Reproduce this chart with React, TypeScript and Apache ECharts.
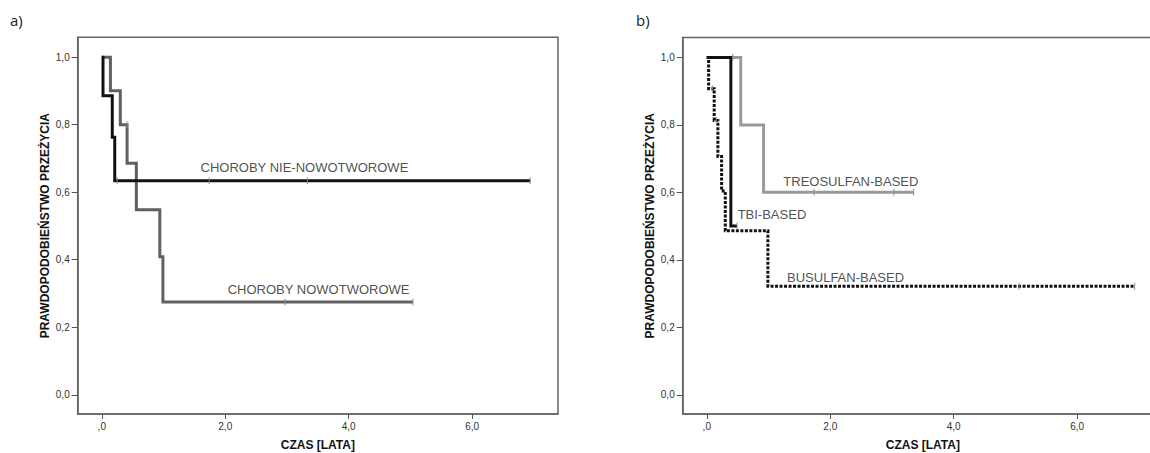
import React, { useEffect, useRef } from "react";
import * as echarts from "echarts";

// ---- Data ----
const xTicks = [0, 2, 4, 6];
const yTicks = [0, 0.2, 0.4, 0.6, 0.8, 1.0];

// Panel a) — Kaplan-Meier steps [time (years), survival]
const nonCancer: [number, number][] = [[0, 1], [0.02, 0.886], [0.17, 0.763], [0.21, 0.634], [6.94, 0.634]];
const cancer: [number, number][] = [[0, 1], [0.14, 0.901], [0.3, 0.8], [0.41, 0.686], [0.56, 0.548], [0.94, 0.409], [0.99, 0.275], [5.04, 0.275]];
const nonCancerCensor: [number, number][] = [[0.25, 0.634], [1.74, 0.634], [3.33, 0.634], [6.94, 0.634]];
const cancerCensor: [number, number][] = [[0.41, 0.8], [2.97, 0.275], [5.04, 0.275]];

// Panel b)
const tbi: [number, number][] = [[0, 1], [0.39, 0.5], [0.49, 0.5]];
const treo: [number, number][] = [[0, 1], [0.55, 0.8], [0.92, 0.6], [3.35, 0.6]];
const busulfan: [number, number][] = [[0, 1], [0.03, 0.907], [0.12, 0.813], [0.18, 0.706], [0.24, 0.604], [0.3, 0.486], [0.99, 0.322], [6.93, 0.322]];
const tbiCensor: [number, number][] = [[0.49, 0.5]];
const treoCensor: [number, number][] = [[0.42, 1.0], [1.74, 0.6], [3.03, 0.6], [3.35, 0.6]];
const busulfanCensor: [number, number][] = [[0.09, 0.907], [0.16, 0.813], [5.06, 0.322], [6.93, 0.322]];

// Curve labels [time, survival, text]
const labelsA: [number, number, string][] = [
  [1.6, 0.672, "CHOROBY NIE-NOWOTWOROWE"],
  [2.04, 0.311, "CHOROBY NOWOTWOROWE"],
];
const labelsB: [number, number, string][] = [
  [0.5, 0.534, "TBI-BASED"],
  [1.24, 0.633, "TREOSULFAN-BASED"],
  [1.3, 0.349, "BUSULFAN-BASED"],
];

const X_MIN = -0.39, X_MAX = 7.39, Y_MIN = -0.057, Y_MAX = 1.059;
const FONT = "'Liberation Sans', Arial, sans-serif";

const fmtX = (v: number) => (Math.abs(v) < 1e-9 ? ",0" : v.toFixed(1).replace(".", ","));
const fmtY = (v: number) => v.toFixed(1).replace(".", ",");

function makeX(gridIndex: number) {
  return {
    type: "value", gridIndex, min: X_MIN, max: X_MAX,
    name: "CZAS [LATA]", nameLocation: "middle", nameGap: 25,
    nameTextStyle: { fontFamily: FONT, fontSize: 12, fontWeight: "bold", color: "#111" },
    axisLine: { show: true, onZero: false, lineStyle: { color: "#666", width: 1.5 } },
    axisTick: { show: true, length: 5, customValues: xTicks, lineStyle: { color: "#555", width: 1 } },
    axisLabel: { customValues: xTicks, formatter: fmtX, fontFamily: FONT, fontSize: 10, color: "#333", margin: 7 },
    splitLine: { show: false },
  };
}
function makeY(gridIndex: number) {
  return {
    type: "value", gridIndex, min: Y_MIN, max: Y_MAX,
    name: "PRAWDOPODOBIEŃSTWO PRZEŻYCIA", nameLocation: "middle", nameGap: 27, nameRotate: 90,
    nameTextStyle: { fontFamily: FONT, fontSize: 12, fontWeight: "bold", color: "#111" },
    axisLine: { show: true, onZero: false, lineStyle: { color: "#666", width: 1.5 } },
    axisTick: { show: true, length: 6, customValues: yTicks, lineStyle: { color: "#555", width: 1 } },
    axisLabel: { customValues: yTicks, formatter: fmtY, fontFamily: FONT, fontSize: 10, color: "#333", margin: 8 },
    splitLine: { show: false },
  };
}

function stepLine(data: [number, number][], idx: number, color: string, type: any = "solid", z = 2) {
  return {
    type: "line", xAxisIndex: idx, yAxisIndex: idx, data, step: "end", showSymbol: false, symbol: "none",
    lineStyle: { color, width: 3, type, cap: "butt", join: "miter" }, z, silent: true,
  };
}
function censor(data: [number, number][], idx: number) {
  return {
    type: "scatter", xAxisIndex: idx, yAxisIndex: idx, data, symbol: "rect", symbolSize: [1.2, 7],
    itemStyle: { color: "#8a8a8a" }, z: 5, silent: true,
  };
}
function labels(data: [number, number, string][], idx: number) {
  return {
    type: "scatter", xAxisIndex: idx, yAxisIndex: idx, symbolSize: 0, silent: true, z: 6,
    data: data.map((d) => ({ value: [d[0], d[1]], name: d[2] })),
    label: {
      show: true, position: "right", distance: 0, formatter: (p: any) => p.name,
      fontFamily: FONT, fontSize: 13, color: "#222",
    },
  };
}

export default function App() {
  const ref = useRef<HTMLDivElement>(null);
  useEffect(() => {
    if (!ref.current) return;
    const chart = echarts.init(ref.current, null, { renderer: "svg" });
    chart.setOption({
      animation: false,
      backgroundColor: "#fff",
      grid: [
        { left: 77.7, top: 37.3, width: 480.3, height: 376.7, show: true, borderColor: "#666", borderWidth: 1.5, containLabel: false, outerBoundsMode: "none" },
        { left: 682.7, top: 37.5, width: 480.3, height: 376.5, show: true, borderColor: "#666", borderWidth: 1.5, containLabel: false, outerBoundsMode: "none" },
      ],
      xAxis: [makeX(0), makeX(1)],
      yAxis: [makeY(0), makeY(1)],
      graphic: [
        { type: "text", left: 10, top: 12, style: { text: "a)", fontFamily: "'Open Sans', 'Noto Sans', sans-serif", fontSize: 15, fill: "#222" } },
        { type: "text", left: 636, top: 12, style: { text: "b)", fontFamily: "'Open Sans', 'Noto Sans', sans-serif", fontSize: 15, fill: "#222" } },
      ],
      series: [
        stepLine(cancer, 0, "#606060"),
        stepLine(nonCancer, 0, "#111", "solid", 3),
        censor(nonCancerCensor, 0),
        censor(cancerCensor, 0),
        labels(labelsA, 0),
        stepLine(treo, 1, "#9a9a9a"),
        stepLine(busulfan, 1, "#111", [3, 1.5], 3),
        stepLine(tbi, 1, "#111", "solid", 4),
        censor(tbiCensor, 1),
        censor(treoCensor, 1),
        censor(busulfanCensor, 1),
        labels(labelsB, 1),
      ],
    });
    return () => chart.dispose();
  }, []);
  return (
    <div
      ref={ref}
      style={{ position: "fixed", left: 0, top: 0, width: 1150, height: 453, background: "#fff" }}
    />
  );
}
